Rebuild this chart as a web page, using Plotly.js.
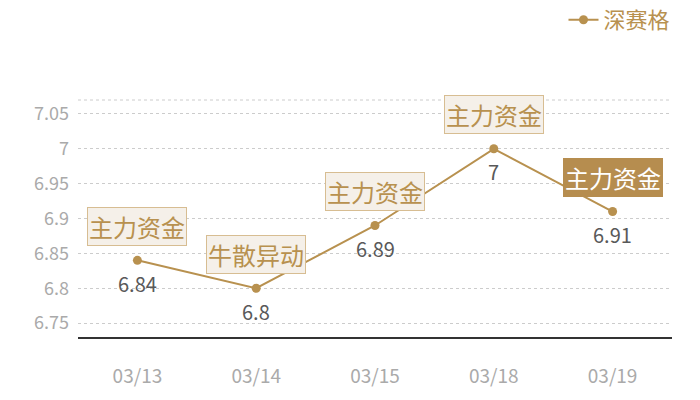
<!DOCTYPE html>
<html>
<head>
<meta charset="utf-8">
<script src="https://cdn.plot.ly/plotly-3.0.1.min.js"></script>
<style>
  html, body { margin: 0; padding: 0; background: #fff; }
  #chart { width: 700px; height: 400px; }
</style>
</head>
<body>
<div id="chart"></div>
<script>
// chart data
const dates = ['03/13', '03/14', '03/15', '03/18', '03/19'];
const prices = [6.84, 6.8, 6.89, 7, 6.91];
const tags = ['主力资金', '牛散异动', '主力资金', '主力资金', '主力资金'];
const yTickVals = [6.75, 6.8, 6.85, 6.9, 6.95, 7, 7.05];
const yTickText = ['6.75', '6.8', '6.85', '6.9', '6.95', '7', '7.05'];

const GOLD = '#b8914f';
const FONT = '"Noto Sans CJK SC", "Noto Sans", sans-serif';

const annotations = [];
dates.forEach((d, i) => {
  const last = i === dates.length - 1;
  // value under the point
  annotations.push({
    x: d, y: prices[i], text: String(prices[i]), showarrow: false,
    yshift: -23, font: { size: 20, color: '#595959' },
    xref: 'x', yref: 'y',
  });
  // tag box above the point
  annotations.push({
    x: d, y: prices[i], text: tags[i], showarrow: false,
    yshift: 34,
    font: { size: 24, color: last ? '#fff' : GOLD },
    bgcolor: last ? '#b68d4f' : '#f5f0e9',
    bordercolor: last ? '#b68d4f' : '#d7bd92',
    borderwidth: 1, borderpad: 1,
    xref: 'x', yref: 'y',
  });
});

const traces = [{
  type: 'scatter', mode: 'lines+markers', x: dates, y: prices,
  name: '深赛格',
  line: { color: GOLD, width: 2 },
  marker: { color: GOLD, size: 9 },
  cliponaxis: false,
}];

Plotly.newPlot('chart', traces, {
  width: 700, height: 400,
  paper_bgcolor: '#fff', plot_bgcolor: '#fff',
  font: { family: FONT, color: '#aaa', size: 17 },
  margin: { l: 78, r: 28, t: 100, b: 63, autoexpand: false },
  xaxis: {
    type: 'category', range: [-0.5, 4.5], showgrid: false, zeroline: false,
    showline: true, linecolor: '#333', linewidth: 1.5,
    ticks: '', ticklen: 0, ticklabelstandoff: 22,
    tickfont: { size: 19, color: '#aaa' },
  },
  yaxis: {
    range: [6.73, 7.07], tickvals: yTickVals, ticktext: yTickText,
    showgrid: true, gridcolor: '#ccc', griddash: 'dot', gridwidth: 1,
    zeroline: false, showline: false, ticks: '', ticklabelstandoff: 8,
    tickfont: { size: 18, color: '#aaa' },
  },
  shapes: [{
    type: 'line', xref: 'paper', yref: 'paper', x0: 0, x1: 1, y0: 1, y1: 1,
    line: { color: '#ccc', width: 1, dash: 'dot' },
  }],
  annotations,
  showlegend: true,
  legend: {
    xref: 'container', yref: 'container',
    x: 0.965, xanchor: 'right', y: 0.95, yanchor: 'middle',
    font: { size: 22, color: GOLD }, bgcolor: 'rgba(0,0,0,0)',
  },
}, { displayModeBar: false, staticPlot: true });
</script>
</body>
</html>
